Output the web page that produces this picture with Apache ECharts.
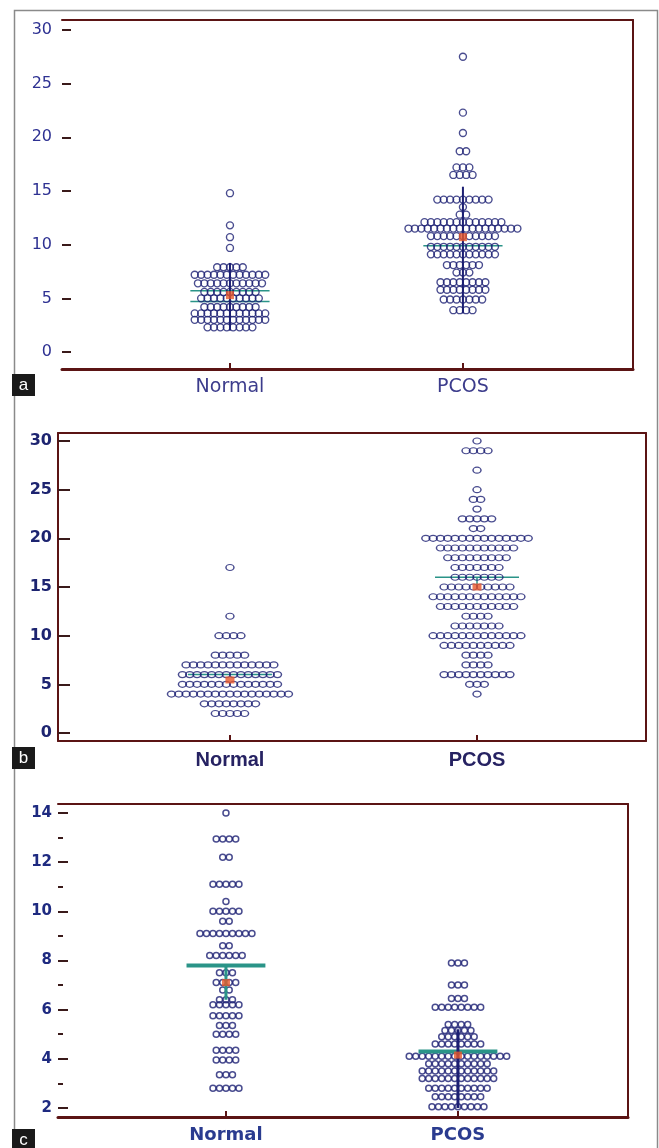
<!DOCTYPE html>
<html>
<head>
<meta charset="utf-8">
<script src="https://cdn.jsdelivr.net/npm/echarts@6/dist/echarts.min.js"></script>
<style>
html, body { margin: 0; padding: 0; background: #fff; }
#main { width: 659px; height: 1148px; }
</style>
</head>
<body>
<div id="main"></div>
<script>
var categories = ['Normal', 'PCOS'];

// panel a
var aTicks = [0, 5, 10, 15, 20, 25, 30];
var aNormalLevels = [14.8, 11.8, 10.7, 9.7, 7.9, 7.2, 6.4, 5.6, 5.0, 4.2, 3.6, 3.0, 2.3];
var aNormalCounts = [1, 1, 1, 1, 5, 12, 11, 9, 10, 9, 12, 12, 8];
var aPcosLevels = [27.5, 22.3, 20.4, 18.7, 17.2, 16.5, 14.2, 13.5, 12.8, 12.1, 11.5, 10.8, 9.8, 9.1, 8.1, 7.4, 6.5, 5.8, 4.9, 3.9];
var aPcosCounts = [1, 1, 1, 2, 3, 4, 9, 1, 2, 13, 18, 11, 11, 11, 6, 3, 8, 8, 7, 4];
var aMeans = [5.3, 10.7];
var aMedians = [[5.7, 4.7], [9.9]];
var aBars = [[2.0, 8.3], [3.6, 15.4]];

// panel b
var bTicks = [0, 5, 10, 15, 20, 25, 30];
var bNormalLevels = [17, 12, 10, 8, 7, 6, 5, 4, 3, 2];
var bNormalCounts = [1, 1, 4, 5, 13, 14, 14, 17, 8, 5];
var bPcosLevels = [30, 29, 27, 25, 24, 23, 22, 21, 20, 19, 18, 17, 16, 15, 14, 13, 12, 11, 10, 9, 8, 7, 6, 5, 4];
var bPcosCounts = [1, 4, 1, 1, 2, 1, 5, 2, 15, 11, 9, 7, 7, 10, 13, 11, 4, 7, 13, 10, 4, 4, 10, 3, 1];
var bMeans = [5.45, 15.0];
var bMedians = [[6.0], [16.0]];
var bBars = [null, [15.0, 16.0]];

// panel c
var cTicks = [2, 4, 6, 8, 10, 12, 14];
var cMinorTicks = [3, 5, 7, 9, 11, 13];
var cNormalLevels = [14, 12.95, 12.2, 11.1, 10.4, 10.0, 9.6, 9.1, 8.6, 8.2, 7.5, 7.1, 6.8, 6.4, 6.2, 5.75, 5.35, 5.0, 4.35, 3.95, 3.35, 2.8];
var cNormalCounts = [1, 4, 2, 5, 1, 5, 2, 9, 2, 6, 3, 4, 2, 3, 5, 5, 3, 4, 4, 4, 3, 5];
var cPcosLevels = [7.9, 7.0, 6.45, 6.1, 5.4, 5.15, 4.9, 4.6, 4.1, 3.8, 3.5, 3.2, 2.8, 2.45, 2.05];
var cPcosCounts = [3, 3, 3, 8, 4, 5, 6, 8, 16, 10, 12, 12, 10, 8, 9];
var cMeans = [7.1, 4.15];
var cMedians = [[7.8], [4.3]];
var cBars = [[6.4, 7.8], [2.0, 5.2]];

var navy = '#1c1f73';
var frame = '#5b1414';
var teal = '#2a9488';
var orange = '#e8582a';

var panels = [
	{
		tag: 'a', box: 374,
		grid: { left: 62, top: 20, width: 571, height: 349 },
		xMin: 0.279, xMax: 2.73, yMin: -1.58, yMax: 30.93,
		ticks: aTicks, tickLen: 9, labelMargin: 10,
		labelFont: { fontFamily: 'DejaVu Sans', fontSize: 16, fontWeight: 'normal', color: '#2e3192' },
		catFont: { fontFamily: 'DejaVu Sans', fontSize: 19, fontWeight: 'normal', color: '#3c3c8c' },
		leftLine: false, bottomWidth: 3,
		groups: [[aNormalLevels, aNormalCounts], [aPcosLevels, aPcosCounts]],
		means: aMeans, medians: aMedians, bars: aBars, barColors: [navy, navy],
		step: 0.0275, dot: 7, dotBorder: 1.4, meanSize: [8, 8],
		medianWidth: 1.5, barWidth: 2, medianTop: false
	},
	{
		tag: 'b', box: 747,
		grid: { left: 58, top: 433, width: 588, height: 308 },
		xMin: 0.304, xMax: 2.684, yMin: -0.82, yMax: 30.82,
		ticks: bTicks, tickLen: 12, labelMargin: 6,
		labelFont: { fontFamily: 'DejaVu Sans', fontSize: 16, fontWeight: 'bold', color: '#1d2470' },
		catFont: { fontFamily: 'Liberation Sans', fontSize: 20, fontWeight: 'bold', color: '#262262' },
		leftLine: true, bottomWidth: 2,
		groups: [[bNormalLevels, bNormalCounts], [bPcosLevels, bPcosCounts]],
		means: bMeans, medians: bMedians, bars: bBars, barColors: [teal, teal],
		step: 0.0296, dot: [8, 6], dotBorder: 1.3, meanSize: [9, 7],
		medianWidth: 1.5, barWidth: 1.5, medianTop: false
	},
	{
		tag: 'c', box: 1129,
		grid: { left: 58, top: 804, width: 570, height: 313 },
		xMin: 0.276, xMax: 2.733, yMin: 1.63, yMax: 14.37,
		ticks: cTicks, minorTicks: cMinorTicks, tickLen: 10, labelMargin: 6,
		labelFont: { fontFamily: 'DejaVu Sans', fontSize: 15, fontWeight: 'bold', color: '#1e2a80' },
		catFont: { fontFamily: 'DejaVu Sans', fontSize: 18, fontWeight: 'bold', color: '#2a3b8f' },
		leftLine: false, bottomWidth: 3,
		groups: [[cNormalLevels, cNormalCounts], [cPcosLevels, cPcosCounts]],
		means: cMeans, medians: cMedians, bars: cBars, barColors: [teal, navy],
		step: 0.028, dot: 6, dotBorder: 1.5, meanSize: [8, 7],
		medianWidth: 4, barWidth: 3, medianTop: true
	}
];

// simple centred beeswarm: dots of one value sit side by side around the category
function swarm(cat, levels, counts, step) {
	var pts = [];
	levels.forEach(function(v, k) {
		var n = counts[k];
		for (var j = 0; j < n; j++) {
			pts.push([cat + (j - (n - 1) / 2) * step, v]);
		}
	});
	return pts;
}

var option = {
	animation: false,
	grid: [], xAxis: [], yAxis: [], series: [],
	graphic: []
};

panels.forEach(function(p, i) {
	option.grid.push(p.grid);
	var xb = option.xAxis.length;
	option.xAxis.push({
		gridIndex: i, type: 'value', position: 'bottom',
		min: p.xMin, max: p.xMax,
		axisLine: { show: true, onZero: false, lineStyle: { color: frame, width: p.bottomWidth } },
		axisTick: { show: true, inside: true, length: 6, customValues: [1, 2], lineStyle: { color: frame, width: 2 } },
		axisLabel: {
			customValues: [1, 2], margin: 9,
			formatter: function(v) { return categories[Math.round(v) - 1]; },
			fontFamily: p.catFont.fontFamily, fontSize: p.catFont.fontSize,
			fontWeight: p.catFont.fontWeight, color: p.catFont.color
		},
		splitLine: { show: false }
	});
	option.xAxis.push({
		gridIndex: i, type: 'value', position: 'top',
		min: p.xMin, max: p.xMax,
		axisLine: { show: true, onZero: false, lineStyle: { color: frame, width: 2 } },
		axisTick: { show: false }, axisLabel: { show: false }, splitLine: { show: false }
	});
	var yl = option.yAxis.length;
	option.yAxis.push({
		gridIndex: i, type: 'value', position: 'left',
		min: p.yMin, max: p.yMax,
		axisLine: { show: p.leftLine, onZero: false, lineStyle: { color: frame, width: 2 } },
		axisTick: { show: true, inside: true, length: p.tickLen, customValues: p.ticks, lineStyle: { color: '#3a1a1a', width: 2 } },
		axisLabel: {
			customValues: p.ticks, margin: p.labelMargin,
			fontFamily: p.labelFont.fontFamily, fontSize: p.labelFont.fontSize,
			fontWeight: p.labelFont.fontWeight, color: p.labelFont.color
		},
		splitLine: { show: false }
	});
	option.yAxis.push({
		gridIndex: i, type: 'value', position: 'right',
		min: p.yMin, max: p.yMax,
		axisLine: { show: true, onZero: false, lineStyle: { color: frame, width: 2 } },
		axisTick: { show: false }, axisLabel: { show: false }, splitLine: { show: false }
	});
	if (p.minorTicks) {
		option.yAxis.push({
			gridIndex: i, type: 'value', position: 'left',
			min: p.yMin, max: p.yMax,
			axisLine: { show: false, onZero: false },
			axisTick: { show: true, inside: true, length: 5, customValues: p.minorTicks, lineStyle: { color: '#3a1a1a', width: 2 } },
			axisLabel: { show: false }, splitLine: { show: false }
		});
	}

	p.groups.forEach(function(g, k) {
		var cat = k + 1;
		var hw = 0.17;
		// median lines
		p.medians[k].forEach(function(m) {
			option.series.push({
				type: 'line', xAxisIndex: xb, yAxisIndex: yl, silent: true,
				symbol: 'none', z: p.medianTop ? 4 : 1,
				lineStyle: { color: teal, width: p.medianWidth },
				data: [[cat - hw, m], [cat + hw, m]]
			});
		});
		// vertical bar
		if (p.bars[k]) {
			option.series.push({
				type: 'line', xAxisIndex: xb, yAxisIndex: yl, silent: true,
				symbol: 'none', z: p.medianTop ? 4 : 1,
				lineStyle: { color: p.barColors[k], width: p.barWidth },
				data: [[cat, p.bars[k][0]], [cat, p.bars[k][1]]]
			});
		}
		// dots
		option.series.push({
			type: 'scatter', xAxisIndex: xb, yAxisIndex: yl, silent: true,
			symbol: 'circle', symbolSize: p.dot, z: 2,
			itemStyle: { color: 'rgba(255,255,255,0)', borderColor: navy, borderWidth: p.dotBorder },
			data: swarm(cat, g[0], g[1], p.step)
		});
		// mean
		option.series.push({
			type: 'scatter', xAxisIndex: xb, yAxisIndex: yl, silent: true,
			symbol: 'rect', symbolSize: p.meanSize, z: 6,
			itemStyle: { color: orange },
			data: [[cat, p.means[k]]]
		});
	});

	option.graphic.push({
		type: 'group', left: 12, top: p.box,
		children: [
			{ type: 'rect', shape: { x: 0, y: 0, width: 23, height: 22 }, style: { fill: '#1a1a1a' } },
			{ type: 'text', x: 11.5, y: 11, style: { text: p.tag, fill: '#fff', font: '17px "Liberation Sans"', align: 'center', verticalAlign: 'middle' } }
		]
	});
});

option.graphic.push({
	type: 'rect', left: 12, top: 8, z: -1,
	shape: { x: 0, y: 0, width: 643, height: 1160 },
	style: { fill: 'none', stroke: '#8a8a8a', lineWidth: 1.5 }
});

var chart = echarts.init(document.getElementById('main'));
chart.setOption(option);
</script>
</body>
</html>
